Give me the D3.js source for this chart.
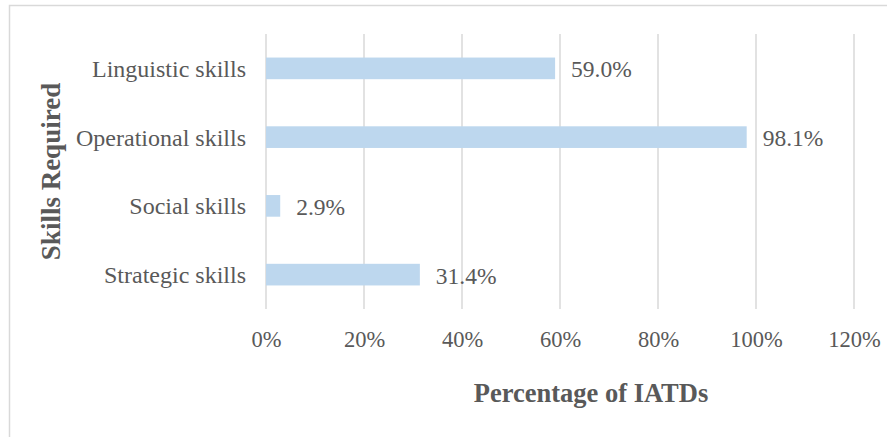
<!DOCTYPE html>
<html>
<head>
<meta charset="utf-8">
<script src="https://cdn.jsdelivr.net/npm/d3@7"></script>
<style>
  html, body { margin: 0; padding: 0; background: #fff; }
  svg { display: block; font-family: "Liberation Serif", "Times New Roman", serif; }
</style>
</head>
<body>
<svg id="chart" width="887" height="437"></svg>
<script>
// Share of IATDs requiring each skill type (%)
const categories = ["Linguistic skills", "Operational skills", "Social skills", "Strategic skills"];
const values = [59.0, 98.1, 2.9, 31.4];
const tickValues = [0, 20, 40, 60, 80, 100, 120];
const xTitle = "Percentage of IATDs";
const yTitle = "Skills Required";

const svg = d3.select("#chart");
const serif = "'Liberation Serif', 'Times New Roman', serif";
const textColor = "#595959";
const gridColor = "#d9d9d9";

// outer chart frame
svg.append("rect")
  .attr("x", 9.5).attr("y", 5.5)
  .attr("width", 900).attr("height", 460)
  .attr("fill", "none")
  .attr("stroke", gridColor)
  .attr("stroke-width", 1.5);

const plot = { left: 266, right: 854, top: 34, bottom: 309 };

const x = d3.scaleLinear().domain([0, 120]).range([plot.left, plot.right]);
const y = d3.scaleBand().domain(categories).range([plot.top, plot.bottom]).paddingInner(0.685).paddingOuter(0.3425);

// vertical gridlines
svg.append("g")
  .selectAll("line")
  .data(tickValues)
  .join("line")
  .attr("x1", d => x(d)).attr("x2", d => x(d))
  .attr("y1", plot.top).attr("y2", plot.bottom)
  .attr("stroke", gridColor)
  .attr("stroke-width", 1.5);

// x axis tick labels
const xAxis = d3.axisBottom(x).tickValues(tickValues).tickSize(0).tickPadding(0).tickFormat(d => d + "%");
svg.append("g")
  .attr("transform", `translate(0, ${plot.bottom})`)
  .call(xAxis)
  .attr("font-family", serif)
  .call(g => g.select(".domain").remove())
  .call(g => g.selectAll("text")
    .attr("dy", null)
    .attr("y", 38)
    .attr("fill", textColor)
    .attr("font-size", "22.5px"));

// y axis category labels
const yAxis = d3.axisLeft(y).tickSize(0).tickPadding(0);
svg.append("g")
  .attr("transform", `translate(${plot.left}, 0)`)
  .call(yAxis)
  .attr("font-family", serif)
  .call(g => g.select(".domain").remove())
  .call(g => g.selectAll("text")
    .attr("x", -20)
    .attr("dy", "0.35em")
    .attr("fill", textColor)
    .attr("font-size", "24px"));

// bars
svg.append("g")
  .selectAll("rect")
  .data(categories)
  .join("rect")
  .attr("x", x(0))
  .attr("y", d => y(d))
  .attr("width", (d, i) => x(values[i]) - x(0))
  .attr("height", y.bandwidth())
  .attr("fill", "#bdd7ee");

// value labels
svg.append("g")
  .attr("font-family", serif)
  .selectAll("text")
  .data(categories)
  .join("text")
  .attr("x", (d, i) => x(values[i]) + 16)
  .attr("y", d => y(d) + y.bandwidth() / 2)
  .attr("dy", "0.38em")
  .attr("fill", textColor)
  .attr("font-size", "23.5px")
  .text((d, i) => values[i].toFixed(1) + "%");

// axis titles
svg.append("text")
  .attr("x", 591)
  .attr("y", 402)
  .attr("text-anchor", "middle")
  .attr("font-family", serif)
  .attr("font-weight", "bold")
  .attr("font-size", "26.5px")
  .attr("fill", textColor)
  .text(xTitle);

svg.append("text")
  .attr("transform", `translate(60, ${(plot.top + plot.bottom) / 2}) rotate(-90)`)
  .attr("text-anchor", "middle")
  .attr("font-family", serif)
  .attr("font-weight", "bold")
  .attr("font-size", "27px")
  .attr("fill", textColor)
  .text(yTitle);
</script>
</body>
</html>
